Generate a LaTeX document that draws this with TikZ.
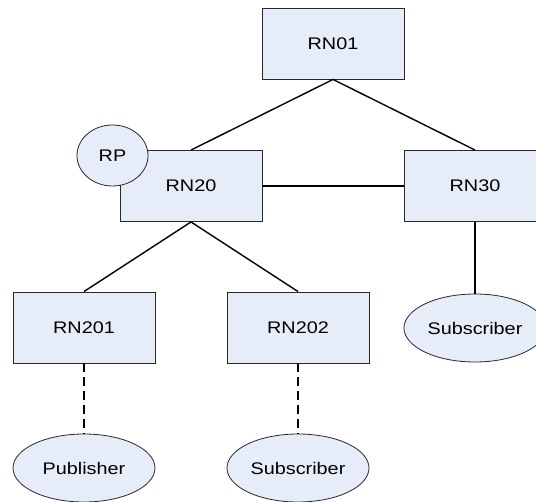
\documentclass[tikz,border=0pt]{standalone}
\usepackage{fontspec}
\setmainfont[FakeStretch=1.18]{Liberation Sans}
\usetikzlibrary{shapes.geometric}
\definecolor{nodefill}{RGB}{230,236,248}
\definecolor{nodeline}{RGB}{40,40,40}
\tikzset{
  labelfont/.style={font=\fontsize{16.8}{19}\selectfont},
  router/.style={rectangle, draw=nodeline, line width=0.9pt, fill=nodefill,
    minimum width=142pt, minimum height=71pt, inner sep=0pt, labelfont},
  client/.style={ellipse, draw=nodeline, line width=0.8pt, fill=nodefill,
    minimum width=142pt, minimum height=68pt, inner sep=0pt, labelfont},
  rpoint/.style={ellipse, draw=nodeline, line width=0.8pt, fill=nodefill,
    minimum width=71pt, minimum height=61pt, inner sep=0pt, labelfont},
  link/.style={draw=black, line width=1.4pt},
  weaklink/.style={draw=black, line width=1.4pt, dash pattern=on 9pt off 5pt},
}
\begin{document}
\begin{tikzpicture}[x=1pt, y=-1pt]
  \useasboundingbox (0,0) rectangle (536,502);
  \clip (0,0) rectangle (536,502);

  % routers
  \node[router] (rn01)  at (333,43.5)  {RN01};
  \node[router] (rn20)  at (191,186)   {RN20};
  \node[router] (rn30)  at (475,186)   {RN30};
  \node[router] (rn201) at (84,327.5)  {RN201};
  \node[router] (rn202) at (298,327.5) {RN202};

  % rendezvous point on top of RN20
  \node[rpoint] (rp) at (112.5,155.5) {RP};

  % end hosts
  \node[client] (subA) at (475,328) {Subscriber};
  \node[client] (pub)  at (84,468)  {Publisher};
  \node[client] (subB) at (298,468) {Subscriber};

  % router links
  \draw[link] (rn01.south) -- (rn20.north);
  \draw[link] (rn01.south) -- (rn30.north);
  \draw[link] (rn20.east) -- (rn30.west);
  \draw[link] (rn20.south) -- (rn201.north);
  \draw[link] (rn20.south) -- (rn202.north);
  \draw[link] (rn30.south) -- (subA.north);

  % host attachments
  \draw[weaklink] (rn201.south) -- (pub.north);
  \draw[weaklink] (rn202.south) -- (subB.north);
\end{tikzpicture}
\end{document}
